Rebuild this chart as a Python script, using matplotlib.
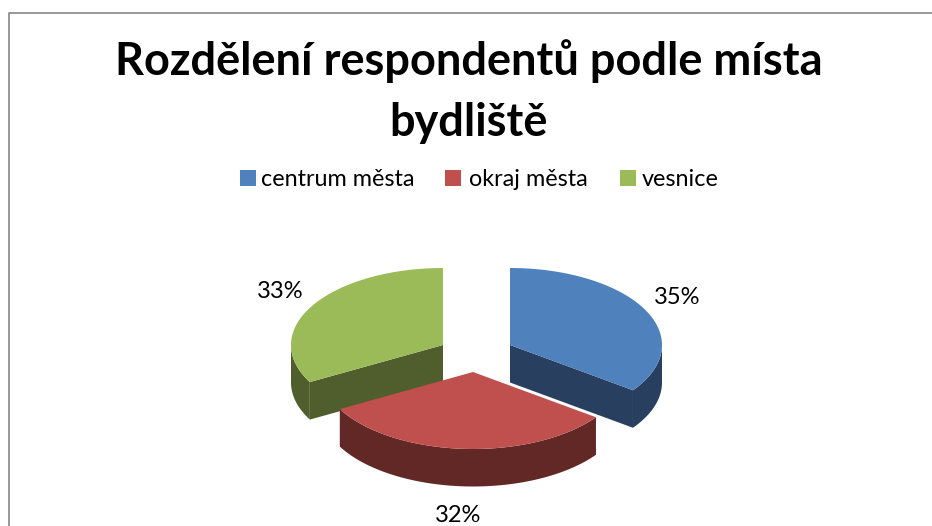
import numpy as np
import matplotlib
matplotlib.use('Agg')
import matplotlib.pyplot as plt
from matplotlib.patches import Polygon, Rectangle

plt.rcParams['font.family'] = ['Lato', 'DejaVu Sans']

categories = ['centrum města', 'okraj města', 'vesnice']
values = [35, 32, 33]
labels = ['35%', '32%', '33%']
title_lines = ['Rozdělení respondentů podle místa', 'bydliště']

top_colors = ['#4f81bd', '#c0504d', '#9bbb59']
side_colors = ['#283f5f', '#622826', '#4f5e2c']

# pixel layout of the fake 3d pie
apex = [(510, 345), (473, 372), (443, 345)]
rx, ry, depth = 152, 77, 37.5
label_pos = [(677, 298), (458, 515), (280, 291)]
legend_x = [(240, 261), (445, 469), (620, 642)]

fig = plt.figure(figsize=(9.32, 5.26), dpi=100)
ax = fig.add_axes([0, 0, 1, 1])
ax.set_xlim(0, 932)
ax.set_ylim(526, 0)
ax.axis('off')

# chart border, only left and top are inside the crop
ax.plot([8.5, 8.5, 932], [526, 12.5, 12.5], color='#868686', lw=1.2)


def rim(cx, cy, a0, a1, n=80):
    t = np.radians(np.linspace(a0, a1, n))
    return cx + rx * np.sin(t), cy - ry * np.cos(t)


edges = np.cumsum([0] + values) / sum(values) * 360

# back to front so red sits over the other two
for i in [2, 0, 1]:
    cx, cy = apex[i]
    a0, a1 = edges[i], edges[i + 1]
    ex, ey = rim(cx, cy, a0, a1)

    # cut faces
    for px, py in [(ex[0], ey[0]), (ex[-1], ey[-1])]:
        if i == 1:
            continue
        ax.add_patch(Polygon([(cx, cy), (px, py), (px, py + depth), (cx, cy + depth)],
                             fc=side_colors[i], ec='none'))

    # outer wall, only the part facing the viewer
    s0, s1 = max(a0, 90), min(a1, 270)
    sx, sy = rim(cx, cy, s0, s1)
    wall = np.r_[np.c_[sx, sy], np.c_[sx, sy + depth][::-1]]
    ax.add_patch(Polygon(wall, fc=side_colors[i], ec='none'))

    # top face
    ax.add_patch(Polygon(np.r_[[(cx, cy)], np.c_[ex, ey]], fc=top_colors[i], ec='none'))

for lab, (x, y) in zip(labels, label_pos):
    ax.text(x, y, lab, fontsize=17, color='black', ha='center', va='center')

for i, line in enumerate(title_lines):
    ax.text(468.5, 61 + i * 62, line, fontsize=32.5, fontweight='bold', color='black',
            ha='center', va='center')

for name, col, (sx, tx) in zip(categories, top_colors, legend_x):
    ax.add_patch(Rectangle((sx, 170), 16, 16, fc=col, ec='none'))
    ax.text(tx, 179.5, name, fontsize=16.8, color='black', ha='left', va='center')

fig.savefig('out.png', dpi=100)
